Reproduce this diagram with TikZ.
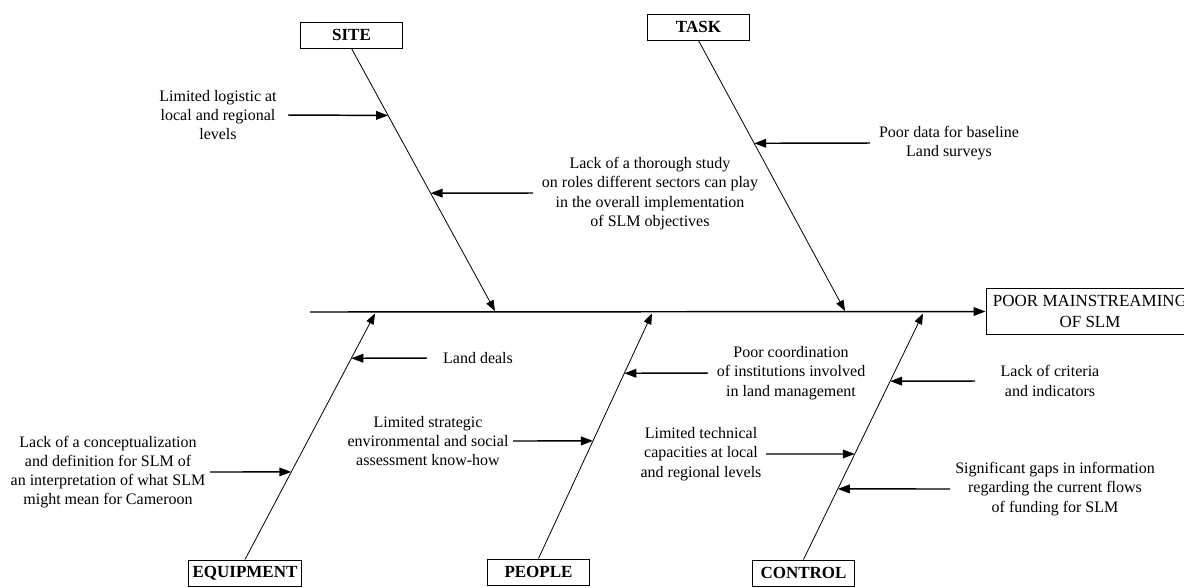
\documentclass[tikz,border=0pt]{standalone}
\usepackage{fontspec}
\setmainfont{Liberation Serif}
\usetikzlibrary{arrows.meta,calc}
\begin{document}
\begin{tikzpicture}[x=0.75pt,y=-0.75pt,
  every node/.style={font=\fontsize{12}{14.4}\selectfont},
  catbox/.style={draw,line width=0.75pt,minimum width=77pt,minimum height=19.5pt,inner sep=3pt,font=\fontsize{12.75}{15}\selectfont\bfseries},
  effbox/.style={draw,line width=0.75pt,minimum width=156pt,minimum height=35pt,align=center,inner sep=2pt,font=\fontsize{12.75}{15.5}\selectfont},
  cause/.style={align=center,inner sep=1pt},
  bone/.style={line width=0.6pt,-{Triangle[length=8pt,width=6pt]}},
  spine/.style={line width=1.1pt,-{Triangle[length=9pt,width=6.5pt]}},
  arr/.style={line width=1.1pt,-{Triangle[length=9pt,width=6.5pt]}}]
\useasboundingbox (0,0) rectangle (1184,587);
\clip (0,0) rectangle (1184,587);

% category boxes
\node[catbox] (site) at (351.5,35) {SITE};
\node[catbox] (task) at (698.5,27) {TASK};
\node[catbox] (equip) at (245,573) {EQUIPMENT};
\node[catbox] (people) at (538.5,572) {PEOPLE};
\node[catbox] (control) at (803.5,573) {CONTROL};
\node[effbox] (effect) at (1090,311.5) {POOR MAINSTREAMING\\OF SLM};

% spine
\coordinate (spinestart) at (310,312);
\draw[spine] (spinestart) -- (effect.west);

% bone tips
\coordinate (siteT) at (495,311);
\coordinate (taskT) at (845,311);
\coordinate (equipT) at (375,313.5);
\coordinate (peopleT) at (652,313.5);
\coordinate (controlT) at (923,313.5);

\draw[bone] (site.south) -- (siteT);
\draw[bone] (task.south) -- (taskT);
\draw[bone] (equip.north) -- (equipT);
\draw[bone] (people.north) -- (peopleT);
\draw[bone] (control.north) -- (controlT);

% points on bones
\coordinate (s1) at ($(site.south)!0.255!(siteT)$);
\coordinate (s2) at ($(site.south)!0.551!(siteT)$);
\coordinate (t1) at ($(task.south)!0.380!(taskT)$);
\coordinate (e1) at ($(equip.north)!0.818!(equipT)$);
\coordinate (e2) at ($(equip.north)!0.356!(equipT)$);
\coordinate (p1) at ($(people.north)!0.480!(peopleT)$);
\coordinate (p2) at ($(people.north)!0.756!(peopleT)$);
\coordinate (c1) at ($(control.north)!0.725!(controlT)$);
\coordinate (c2) at ($(control.north)!0.429!(controlT)$);
\coordinate (c3) at ($(control.north)!0.287!(controlT)$);

% causes
\node[cause] (logistic) at (218,115) {Limited logistic at\\local and regional\\levels};
\coordinate (logisticA) at (288,115);
\draw[arr] (logisticA) -- (s1);

\node[cause] (study) at (650,193.5) {Lack of a thorough study\\on roles different sectors can play\\in the overall implementation\\of SLM objectives};
\coordinate (studyA) at (533,193);
\draw[arr] (studyA) -- (s2);

\node[cause] (data) at (949,143) {Poor data for baseline\\Land surveys};
\coordinate (dataA) at (870,143);
\draw[arr] (dataA) -- (t1);

\node[cause] (deals) at (478,358) {Land deals};
\coordinate (dealsA) at (427,358);
\draw[arr] (dealsA) -- (e1);

\node[cause] (concept) at (108,472) {Lack of a conceptualization\\and definition for SLM of\\an interpretation of what SLM\\might mean for Cameroon};
\coordinate (conceptA) at (210,472);
\draw[arr] (conceptA) -- (e2);

\node[cause] (strategic) at (428,441) {Limited strategic\\environmental and social\\assessment know-how};
\coordinate (strategicA) at (513,441);
\draw[arr] (strategicA) -- (p1);

\node[cause] (coord) at (791,373) {Poor coordination\\of institutions involved\\in land management};
\coordinate (coordA) at (708,373);
\draw[arr] (coordA) -- (p2);

\node[cause] (criteria) at (1050,381) {Lack of criteria\\and indicators};
\coordinate (criteriaA) at (975,381);
\draw[arr] (criteriaA) -- (c1);

\node[cause] (technical) at (701,454) {Limited technical\\capacities at local\\and regional levels};
\coordinate (technicalA) at (766,454);
\draw[arr] (technicalA) -- (c2);

\node[cause] (gaps) at (1055,489) {Significant gaps in information\\regarding the current flows\\of funding for SLM};
\coordinate (gapsA) at (950,489);
\draw[arr] (gapsA) -- (c3);
\end{tikzpicture}
\end{document}
